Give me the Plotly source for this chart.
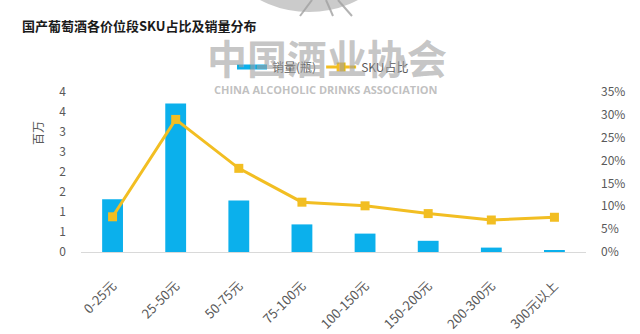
import plotly.graph_objects as go

# Price bands, bottle sales (millions) and SKU share (%)
categories = ["0-25元", "25-50元", "50-75元", "75-100元", "100-150元", "150-200元", "200-300元", "300元以上"]
sales_millions = [1.32, 3.71, 1.29, 0.69, 0.46, 0.28, 0.11, 0.04]
sku_share_pct = [7.7, 29.0, 18.3, 10.9, 10.1, 8.4, 7.0, 7.6]

left_tickvals = [0, 0.5, 1, 1.5, 2, 2.5, 3, 3.5, 4]
left_ticktext = ["0", "1", "1", "2", "2", "3", "3", "4", "4"]
right_tickvals = [0, 5, 10, 15, 20, 25, 30, 35]
right_ticktext = ["0%", "5%", "10%", "15%", "20%", "25%", "30%", "35%"]

BLUE = "#0BB0EC"
GOLD = "#F2BE22"
GREY = "#595959"
FONT = "Noto Sans CJK SC"

# plot area in pixels, used to place paper-referenced decorations
PL, PR, PT, PB = 81, 586, 92, 252


def px(x):
    return (x - PL) / (PR - PL)


def py(y):
    return (PB - y) / (PB - PT)


fig = go.Figure()

fig.add_trace(go.Bar(
    x=categories, y=sales_millions, name="销量(瓶)",
    marker=dict(color=BLUE, line=dict(width=0)),
    width=0.33, showlegend=False, yaxis="y",
))
# legend entry drawn as a thick short bar
fig.add_trace(go.Scatter(
    x=[None], y=[None], mode="lines", name="销量(瓶)",
    line=dict(color=BLUE, width=5), yaxis="y",
))
fig.add_trace(go.Scatter(
    x=categories, y=sku_share_pct, name="SKU占比", mode="lines+markers",
    line=dict(color=GOLD, width=3),
    marker=dict(symbol="square", size=9, color=GOLD),
    yaxis="y2",
))

fig.update_layout(
    width=640, height=334,
    margin=dict(l=PL, r=640 - PR, t=PT, b=334 - PB, autoexpand=False),
    paper_bgcolor="white", plot_bgcolor="white",
    font=dict(family=FONT, color=GREY, size=12),
    xaxis=dict(
        tickangle=-45, showgrid=False, showline=True, linecolor="#D9D9D9",
        linewidth=1, ticks="", ticklabelstandoff=20, automargin=False,
        tickfont=dict(size=13, color=GREY), fixedrange=True,
    ),
    yaxis=dict(
        range=[0, 4], tickvals=left_tickvals, ticktext=left_ticktext,
        showgrid=False, zeroline=False, ticks="", ticklabelstandoff=14,
        automargin=False, tickfont=dict(size=12, color=GREY),
    ),
    yaxis2=dict(
        range=[0, 35], tickvals=right_tickvals, ticktext=right_ticktext,
        overlaying="y", side="right", showgrid=False, zeroline=False,
        ticks="", ticklabelstandoff=14, automargin=False,
        tickfont=dict(size=12, color=GREY),
    ),
    legend=dict(
        orientation="h", x=px(232), y=py(67), xanchor="left", yanchor="middle",
        font=dict(size=12, color=GREY), bgcolor="rgba(0,0,0,0)",
        itemwidth=30,
    ),
    showlegend=True,
)

# association logo disc peeking in at the top edge
fig.add_shape(
    type="circle", xref="paper", yref="paper", layer="below",
    x0=px(203), x1=px(415), y0=py(12), y1=py(-200),
    fillcolor="rgba(185,185,185,0.75)", line=dict(width=0),
)
for x0, x1 in [(312, 300), (326, 333), (338, 352)]:
    fig.add_shape(
        type="line", xref="paper", yref="paper", layer="below",
        x0=px(x0), x1=px(x1), y0=py(0), y1=py(16),
        line=dict(color="rgba(160,160,160,0.8)", width=2),
    )

# association watermark
fig.add_annotation(
    text="<b>中国酒业协会</b>", xref="paper", yref="paper",
    x=px(327), y=py(57), showarrow=False,
    font=dict(family=FONT, size=40, color="rgba(160,160,160,0.6)"),
    xanchor="center", yanchor="middle",
)
fig.add_annotation(
    text="<b>CHINA ALCOHOLIC DRINKS ASSOCIATION</b>", xref="paper", yref="paper",
    x=px(326), y=py(89), showarrow=False,
    font=dict(family="Open Sans", size=11, color="rgba(165,165,165,0.7)"),
    xanchor="center", yanchor="middle",
)

# left axis unit label
fig.add_annotation(
    text="百万", xref="paper", yref="paper", x=px(37), y=py(133),
    showarrow=False, textangle=-90, xanchor="center", yanchor="middle",
    font=dict(family=FONT, size=12, color=GREY),
)

# chart title
fig.add_annotation(
    text="<b>国产葡萄酒各价位段SKU占比及销量分布</b>", xref="paper", yref="paper",
    x=px(20), y=py(25), showarrow=False,
    font=dict(family=FONT, size=13, color="#1a1a1a"),
    xanchor="left", yanchor="middle",
)

fig.write_html("out.html")
